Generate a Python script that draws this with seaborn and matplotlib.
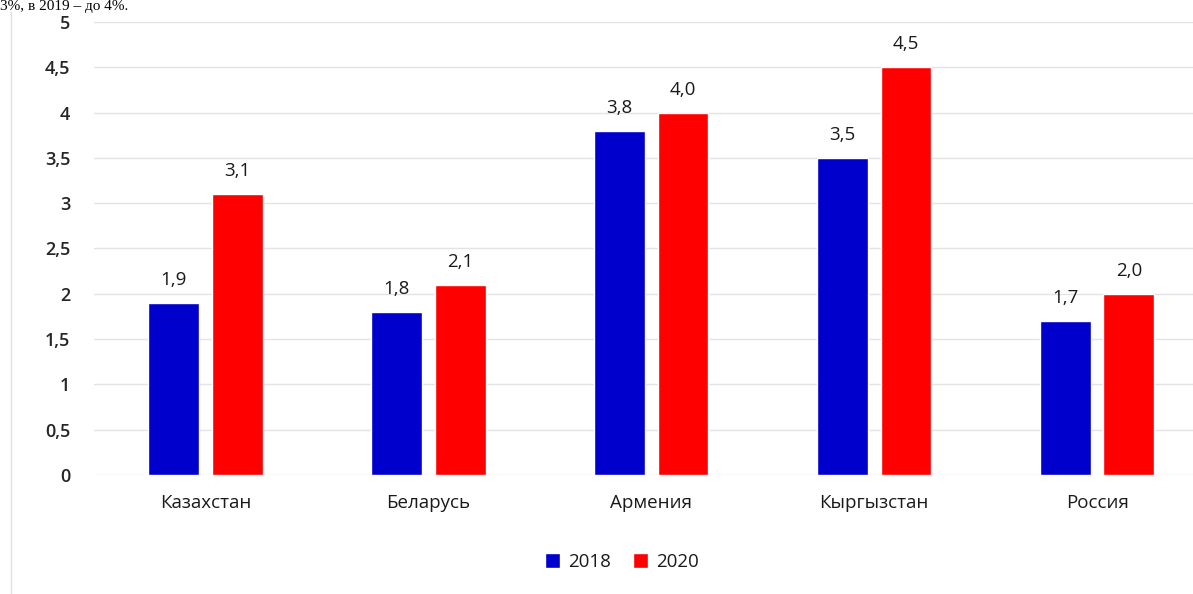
import matplotlib
matplotlib.use("Agg")
import matplotlib.pyplot as plt
import seaborn as sns
import pandas as pd
from matplotlib.lines import Line2D

categories = ["Казахстан", "Беларусь", "Армения", "Кыргызстан", "Россия"]
years = ["2018", "2020"]
values_2018 = [1.9, 1.8, 3.8, 3.5, 1.7]
values_2020 = [3.1, 2.1, 4.0, 4.5, 2.0]
y_ticks = [0, 0.5, 1, 1.5, 2, 2.5, 3, 3.5, 4, 4.5, 5]
y_tick_labels = ["0", "0,5", "1", "1,5", "2", "2,5", "3", "3,5", "4", "4,5", "5"]
colors = {"2018": "#0000CC", "2020": "#FF0000"}

df = pd.DataFrame({
    "country": categories * 2,
    "year": [years[0]] * len(categories) + [years[1]] * len(categories),
    "value": values_2018 + values_2020,
})

sns.set_theme(style="white")
plt.rcParams["font.family"] = ["Open Sans", "DejaVu Sans"]

fig = plt.figure(figsize=(11.93, 5.94), dpi=100)
ax = fig.add_axes([94 / 1193, 1 - 475 / 594, (1193 - 94) / 1193, (475 - 22) / 594])

sns.barplot(data=df, x="country", y="value", hue="year", palette=colors,
            width=0.57, gap=0.2, ax=ax, saturation=1, legend=True)

ax.set_ylim(0, 5)
ax.set_xlim(-0.5, 4.43)
ax.set_yticks(y_ticks)
ax.set_yticklabels(y_tick_labels, fontsize=13, fontweight="semibold", color="#262626")
ax.tick_params(axis="y", length=0, pad=17)
ax.tick_params(axis="x", length=0, pad=14, labelsize=13.5, labelcolor="#1a1a1a")
ax.set_xlabel("")
ax.set_ylabel("")
ax.grid(axis="y", color="#e3e3e3", linewidth=1)
ax.set_axisbelow(True)
for s in ax.spines.values():
    s.set_visible(False)

for cont in ax.containers:
    labels = [f"{b.get_height():.1f}".replace(".", ",") for b in cont]
    ax.bar_label(cont, labels=labels, padding=10, fontsize=13.5, color="#1a1a1a")

leg = ax.legend(loc="center", bbox_to_anchor=(622 / 1193, 1 - 562 / 594),
                bbox_transform=fig.transFigure, ncol=2, frameon=False,
                fontsize=13.5, handlelength=0.8, handleheight=0.8,
                handletextpad=0.4, columnspacing=1.2)
for t in leg.get_texts():
    t.set_color("#1a1a1a")

fig.add_artist(Line2D([11 / 1193, 11 / 1193], [0, 1 - 12 / 594],
                      transform=fig.transFigure, color="#e0e0e0", linewidth=1))

fig.text(0.0, 1.0, "3%, в 2019 – до 4%.", fontsize=11,
         family=["Liberation Serif", "DejaVu Serif"], va="top", ha="left",
         color="black")

fig.savefig("out.png", dpi=100)
